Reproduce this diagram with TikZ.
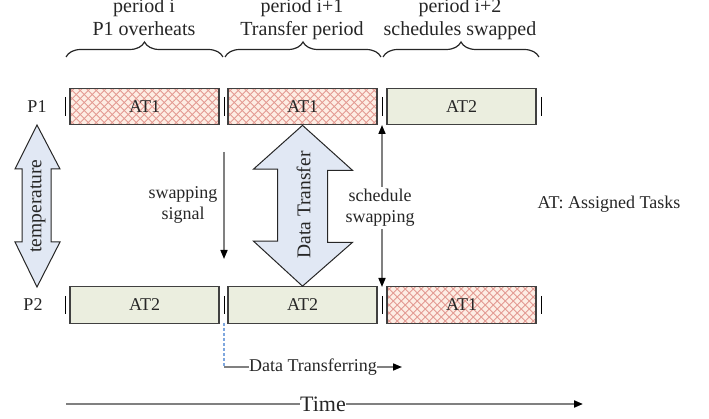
\documentclass[tikz,border=0pt]{standalone}
\usepackage{fontspec}
\setmainfont{Liberation Serif}
\usetikzlibrary{arrows.meta,decorations.pathreplacing,calc}

\definecolor{hotbg}{HTML}{FDEDE4}
\definecolor{hotln}{HTML}{E39A92}
\definecolor{coolbg}{HTML}{EBEEDF}
\definecolor{boxln}{HTML}{404040}
\definecolor{arrbg}{HTML}{E1E8F4}
\definecolor{guide}{HTML}{808080}
\definecolor{dashblue}{HTML}{7FA7DE}
\definecolor{ink}{HTML}{262626}

\begin{document}
\begin{tikzpicture}[x=1pt,y=-1pt,
  every node/.style={text=ink},
  task/.style={draw=boxln, line width=1.2pt, minimum width=149pt,
    minimum height=36.5pt, inner sep=0pt, font=\fontsize{18}{20}\selectfont},
  hot/.style={task, fill=hotbg, path picture={
      \foreach \d in {-48,-40,...,160}{
        \draw[hotln, line width=0.9pt]
          ([xshift=\d pt]path picture bounding box.north west) -- ++(40pt,-40pt);
        \draw[hotln, line width=0.9pt]
          ([xshift=\d pt]path picture bounding box.south west) -- ++(40pt,40pt);
      }}},
  cool/.style={task, fill=coolbg},
  lbl/.style={font=\fontsize{18}{21}\selectfont, align=center, inner sep=1pt},
  ttl/.style={font=\fontsize{20}{23}\selectfont, anchor=base, inner sep=0pt},
  tick/.style={draw=black, line width=1pt},
  brc/.style={decorate, decoration={brace, amplitude=15pt}, line width=1.2pt, draw=ink},
  fat/.style={draw=ink, line width=1pt, fill=arrbg, line join=miter},
  guideln/.style={draw=guide, line width=1.6pt},
  tipb/.style={-{Triangle[length=9pt,width=7pt,color=black]}},
  tipbb/.style={{Triangle[length=9pt,width=7pt,color=black]}-{Triangle[length=9pt,width=7pt,color=black]}},
]
\useasboundingbox (0,0) rectangle (709,419);

% period titles
\node[ttl] (t1a) at (144,13) {period i};
\node[ttl] (t1b) at (144,36) {P1 overheats};
\node[ttl] (t2a) at (302,13) {period i+1};
\node[ttl] (t2b) at (302,36) {Transfer period};
\node[ttl] (t3a) at (460,13) {period i+2};
\node[ttl] (t3b) at (460,36) {schedules swapped};

% braces over the three periods
\draw[brc] (66,57) -- (223,57);
\draw[brc] (225,57) -- (381,57);
\draw[brc] (383,57) -- (539,57);

% processor rows
\node[lbl] (p1) at (37,107) {P1};
\node[lbl] (p2) at (33,305) {P2};

\node[hot]  (a1) at (144.5,106.5) {AT1};
\node[hot]  (a2) at (302.5,106.5) {AT1};
\node[cool] (a3) at (461.5,106.5) {AT2};
\node[cool] (b1) at (144.5,305) {AT2};
\node[cool] (b2) at (302.5,305) {AT2};
\node[hot]  (b3) at (461.5,305) {AT1};

% period boundary ticks
\foreach \x in {65,224,382,541}{
  \draw[tick] (\x,97) -- (\x,116);
  \draw[tick] (\x,296) -- (\x,314);
}

% temperature arrow
\draw[fat] (37,125) -- (60,169) -- (51,169) -- (51,242) -- (60,242) -- (37,287)
  -- (15,242) -- (22,242) -- (22,169) -- (15,169) -- cycle;
\node[rotate=90, font=\fontsize{19.5}{22}\selectfont, inner sep=0pt] (temp) at (38,206) {temperature};

% data transfer arrow between the two AT boxes of period i+1
\draw[fat] (a2.south) -- ++(50,45) -- ++(-25,0) -- ++(0,72) -- ++(25,0) -- (b2.north)
  -- ++(-49,-45) -- ++(24,0) -- ++(0,-72) -- ++(-24,0) -- cycle;
\node[rotate=90, font=\fontsize{19.5}{22}\selectfont, inner sep=0pt] (dt) at (303.5,205) {Data Transfer};

% swapping signal
\coordinate (s0) at (224,152);
\coordinate (s1) at (224,259);
\draw[guideln, tipb] (s0) -- (s1);
\node[lbl] (sw) at (183,205) {swapping\\signal};

% schedule swapping
\coordinate (c0) at (382,125);
\coordinate (c1) at (382,287);
\draw[guideln, tipbb] (c0) -- (c1);
\node[lbl, fill=white, inner sep=2pt] (cs) at (380,208) {schedule\\swapping};

% legend
\node[lbl] (leg) at (609,204) {AT: Assigned Tasks};

% data transferring marker
\coordinate (d0) at (224,323);
\coordinate (d1) at (224,367);
\coordinate (d2) at (402,367);
\draw[dashblue, line width=1.2pt, dashed, dash pattern=on 3pt off 2pt] (d0) -- (d1);
\node[lbl, inner sep=0pt] (dtr) at (313,367) {Data Transferring};
\draw[guideln] (d1) -- (dtr.west);
\draw[guideln, tipb] (dtr.east) -- (d2);

% time axis
\coordinate (ta) at (66,404);
\coordinate (tb) at (583,404);
\node[font=\fontsize{22}{24}\selectfont, inner sep=0pt] (time) at (323,404) {Time};
\draw[guideln, line width=2pt] (ta) -- (time.west);
\draw[guideln, line width=2pt, tipb] (time.east) -- (tb);
\end{tikzpicture}
\end{document}
